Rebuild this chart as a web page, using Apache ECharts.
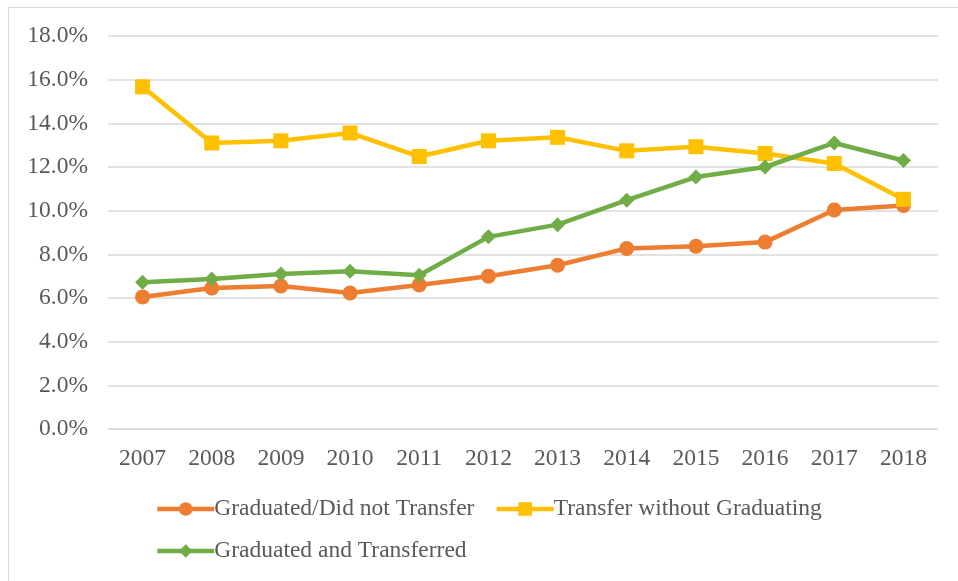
<!DOCTYPE html>
<html>
<head>
<meta charset="utf-8">
<script src="https://cdn.jsdelivr.net/npm/echarts@6/dist/echarts.min.js"></script>
<style>
  html, body { margin: 0; padding: 0; background: #fff; }
  #frame { position: absolute; left: 8px; top: 7px; width: 960px; height: 600px;
           border-left: 1px solid #d9d9d9; border-top: 1px solid #d9d9d9; }
  #chart { position: absolute; left: 0; top: 0; width: 958px; height: 581px; }
</style>
</head>
<body>
<div id="frame"></div>
<div id="chart"></div>
<script>
// data
const years = ["2007", "2008", "2009", "2010", "2011", "2012", "2013", "2014", "2015", "2016", "2017", "2018"];
const graduatedNoTransfer = [6.05, 6.46, 6.55, 6.23, 6.6, 7.0, 7.5, 8.27, 8.37, 8.56, 10.03, 10.24];
const transferNoGraduate = [15.67, 13.1, 13.2, 13.56, 12.48, 13.2, 13.36, 12.74, 12.93, 12.62, 12.16, 10.52];
const graduatedTransferred = [6.72, 6.87, 7.1, 7.22, 7.04, 8.8, 9.36, 10.48, 11.54, 12.0, 13.1, 12.3];

const font = "'Liberation Serif', 'Times New Roman', serif";
const textColor = "#595959";
const fs = 23.5;

function lineSeries(name, data, color, symbol, size) {
  return {
    name: name,
    type: "line",
    data: data,
    symbol: symbol,
    symbolSize: size,
    lineStyle: { color: color, width: 4.5 },
    itemStyle: { color: color },
    emphasis: { disabled: true }
  };
}

const legendBase = {
  itemWidth: 57, itemHeight: 17, itemGap: 20,
  lineStyle: { width: 4.5 },
  textStyle: { color: textColor, fontSize: fs, fontFamily: font, padding: [0, 0, 0, -5] }
};

const chart = echarts.init(document.getElementById("chart"));
chart.setOption({
  animation: false,
  textStyle: { fontFamily: font },
  grid: { left: 108, right: 20, top: 36, bottom: 152 },
  xAxis: {
    type: "category",
    data: years,
    boundaryGap: true,
    axisLine: { lineStyle: { color: "#d9d9d9", width: 1 } },
    axisTick: { show: false },
    axisLabel: { color: textColor, fontSize: fs, fontFamily: font, margin: 18 }
  },
  yAxis: {
    type: "value",
    min: 0,
    max: 18,
    interval: 2,
    axisLine: { show: false },
    axisTick: { show: false },
    splitLine: { lineStyle: { color: "#d9d9d9", width: 1.5 } },
    axisLabel: {
      color: textColor, fontSize: fs, fontFamily: font, margin: 20,
      formatter: v => v.toFixed(1) + "%"
    }
  },
  legend: [
    Object.assign({}, legendBase, {
      data: ["Graduated/Did not Transfer", "Transfer without Graduating"],
      left: 150, top: 492
    }),
    Object.assign({}, legendBase, {
      data: ["Graduated and Transferred"],
      left: 150, top: 534
    })
  ],
  series: [
    lineSeries("Graduated/Did not Transfer", graduatedNoTransfer, "#ed7d31", "circle", 15),
    lineSeries("Transfer without Graduating", transferNoGraduate, "#ffc000", "rect", 15),
    lineSeries("Graduated and Transferred", graduatedTransferred, "#70ad47", "diamond", 15)
  ]
});
</script>
</body>
</html>
